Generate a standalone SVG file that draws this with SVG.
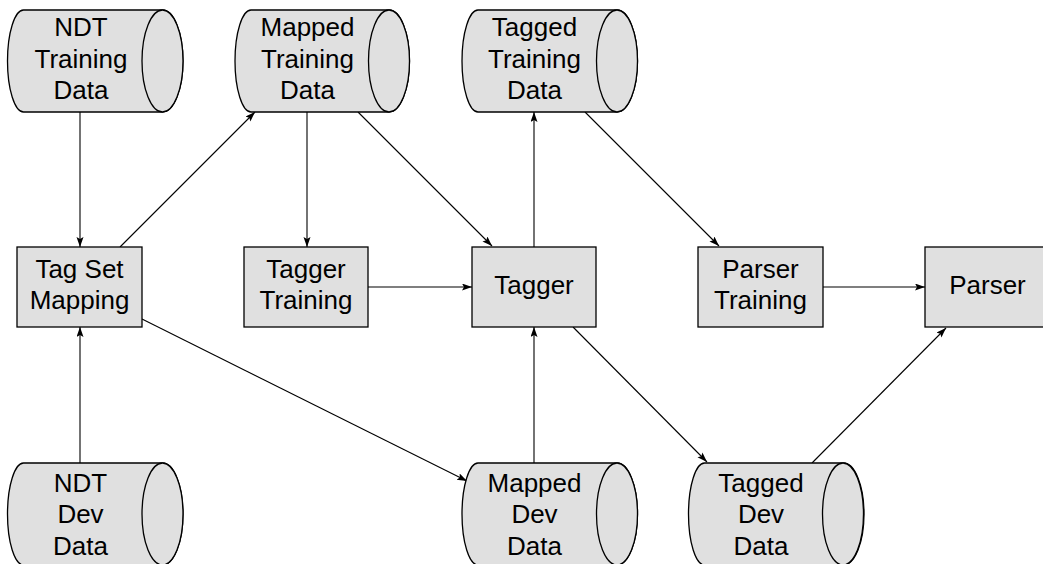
<svg xmlns="http://www.w3.org/2000/svg" width="1043" height="564" viewBox="0 0 1043 564">
<style>
.shape{fill:#e0e0e0;stroke:#000;stroke-width:1.3}
.t{font-family:"Liberation Sans",Arial,sans-serif;font-size:26px;fill:#000;text-anchor:middle}
.edge{stroke:#000;stroke-width:1.1;fill:none;marker-end:url(#arr)}
</style>
<defs>
<marker id="arr" markerUnits="userSpaceOnUse" markerWidth="12" markerHeight="8" refX="10" refY="3.5" orient="auto">
<path d="M0,0 L10,3.5 L0,7 L2,3.5 Z" fill="#000"/>
</marker>
</defs>
<rect width="1043" height="564" fill="#fff"/>
<g id="connectors">
<line class="edge" x1="80" y1="112" x2="80" y2="247"/>
<line class="edge" x1="80" y1="463" x2="80" y2="327"/>
<line class="edge" x1="120" y1="247" x2="255" y2="112"/>
<line class="edge" x1="142" y1="319" x2="467" y2="481"/>
<line class="edge" x1="307" y1="112" x2="307" y2="247"/>
<line class="edge" x1="358" y1="112" x2="492" y2="246"/>
<line class="edge" x1="368" y1="287" x2="472" y2="287"/>
<line class="edge" x1="534" y1="247" x2="534" y2="112"/>
<line class="edge" x1="534" y1="463" x2="534" y2="327"/>
<line class="edge" x1="573" y1="327" x2="707" y2="462"/>
<line class="edge" x1="585" y1="112" x2="719" y2="246"/>
<line class="edge" x1="823" y1="287" x2="925" y2="287"/>
<line class="edge" x1="812" y1="463" x2="946" y2="328"/>
</g>
<g id="ndt-training-data">
<path class="shape" d="M23.5,10 H162.5 A20.5,51 0 0 1 162.5,112 H23.5 A16,51 0 0 1 23.5,10 Z"/>
<ellipse class="shape" cx="162.5" cy="61" rx="20.5" ry="51"/>
<text class="t" x="81" y="36">NDT</text>
<text class="t" x="81" y="67.5">Training</text>
<text class="t" x="81" y="99">Data</text>
</g>
<g id="mapped-training-data">
<path class="shape" d="M251,10 H389 A20.5,51 0 0 1 389,112 H251 A16,51 0 0 1 251,10 Z"/>
<ellipse class="shape" cx="389" cy="61" rx="20.5" ry="51"/>
<text class="t" x="307.5" y="36">Mapped</text>
<text class="t" x="307.5" y="67.5">Training</text>
<text class="t" x="307.5" y="99">Data</text>
</g>
<g id="tagged-training-data">
<path class="shape" d="M478,10 H617 A20.5,51 0 0 1 617,112 H478 A16,51 0 0 1 478,10 Z"/>
<ellipse class="shape" cx="617" cy="61" rx="20.5" ry="51"/>
<text class="t" x="534.5" y="36">Tagged</text>
<text class="t" x="534.5" y="67.5">Training</text>
<text class="t" x="534.5" y="99">Data</text>
</g>
<g id="tag-set-mapping">
<rect class="shape" x="17" y="247" width="125" height="80"/>
<text class="t" x="79.5" y="278">Tag Set</text>
<text class="t" x="79.5" y="309">Mapping</text>
</g>
<g id="tagger-training">
<rect class="shape" x="244" y="247" width="124" height="80"/>
<text class="t" x="306" y="278">Tagger</text>
<text class="t" x="306" y="309">Training</text>
</g>
<g id="tagger">
<rect class="shape" x="472" y="247" width="124" height="80"/>
<text class="t" x="534" y="294">Tagger</text>
</g>
<g id="parser-training">
<rect class="shape" x="698" y="247" width="125" height="80"/>
<text class="t" x="760.5" y="278">Parser</text>
<text class="t" x="760.5" y="309">Training</text>
</g>
<g id="parser">
<rect class="shape" x="925" y="247" width="125" height="80"/>
<text class="t" x="987.5" y="294">Parser</text>
</g>
<g id="ndt-dev-data">
<path class="shape" d="M23.5,463 H162.5 A20.5,51 0 0 1 162.5,565 H23.5 A16,51 0 0 1 23.5,463 Z"/>
<ellipse class="shape" cx="162.5" cy="514" rx="20.5" ry="51"/>
<text class="t" x="80.5" y="491.5">NDT</text>
<text class="t" x="80.5" y="523">Dev</text>
<text class="t" x="80.5" y="554.5">Data</text>
</g>
<g id="mapped-dev-data">
<path class="shape" d="M478,463 H617 A20.5,51 0 0 1 617,565 H478 A16,51 0 0 1 478,463 Z"/>
<ellipse class="shape" cx="617" cy="514" rx="20.5" ry="51"/>
<text class="t" x="534.5" y="491.5">Mapped</text>
<text class="t" x="534.5" y="523">Dev</text>
<text class="t" x="534.5" y="554.5">Data</text>
</g>
<g id="tagged-dev-data">
<path class="shape" d="M704.5,463 H843.5 A20.5,51 0 0 1 843.5,565 H704.5 A16,51 0 0 1 704.5,463 Z"/>
<ellipse class="shape" cx="843" cy="514" rx="20.5" ry="51"/>
<text class="t" x="761" y="491.5">Tagged</text>
<text class="t" x="761" y="523">Dev</text>
<text class="t" x="761" y="554.5">Data</text>
</g>
</svg>
